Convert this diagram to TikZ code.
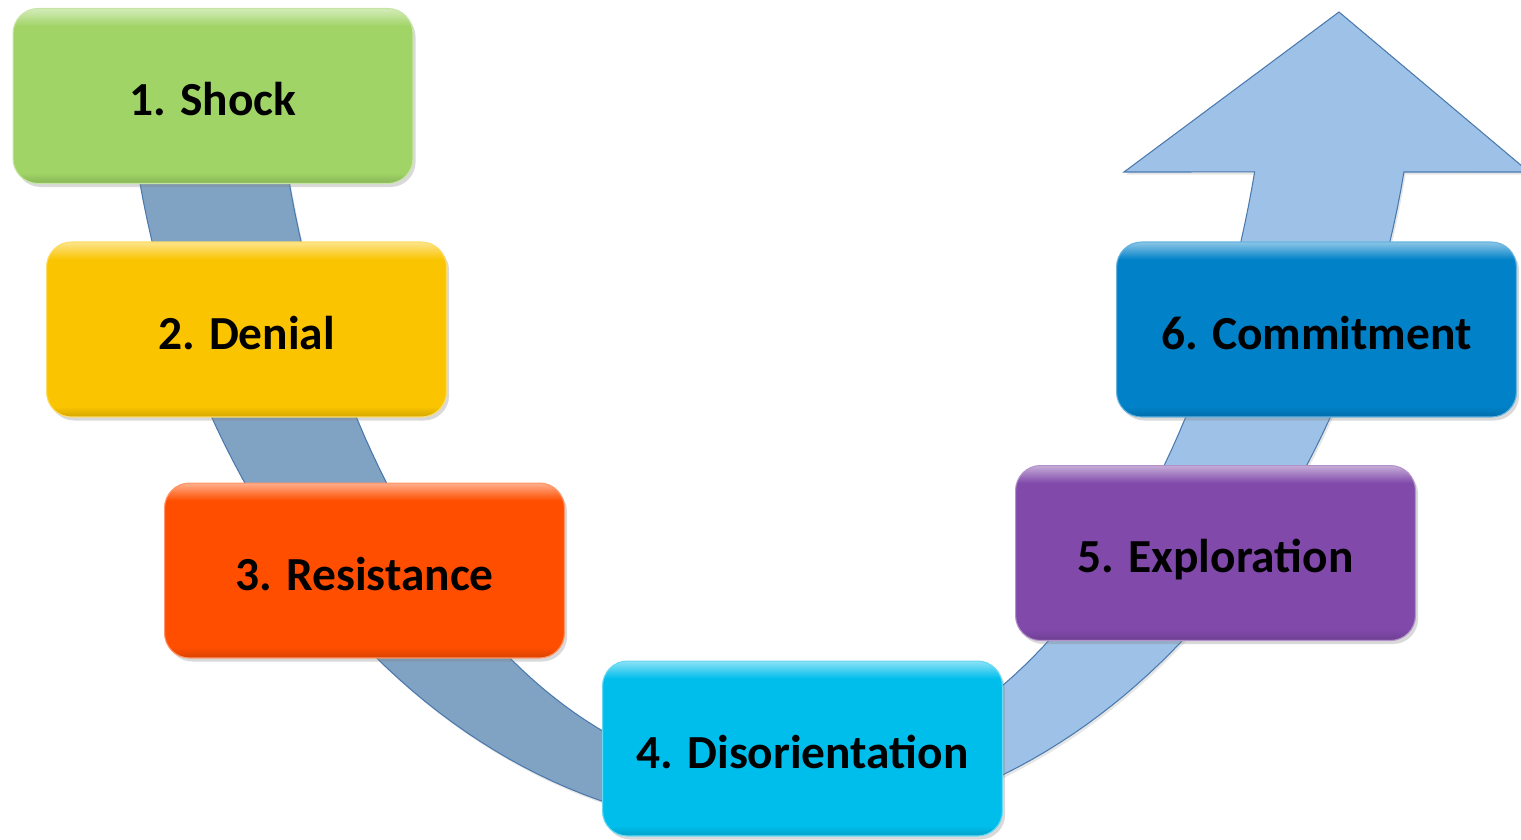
\documentclass[tikz,border=0pt]{standalone}
\usepackage{fontspec}
\setmainfont{Carlito}
\usetikzlibrary{shadows}
\definecolor{bandL}{HTML}{80A3C4}
\definecolor{bandR}{HTML}{9EC2E7}
\definecolor{bandEdge}{HTML}{4A79AE}
\definecolor{cShock}{HTML}{A0D466}
\definecolor{cDenial}{HTML}{FAC400}
\definecolor{cResist}{HTML}{FF4E00}
\definecolor{cDisor}{HTML}{00BEEC}
\definecolor{cExplor}{HTML}{8049AA}
\definecolor{cCommit}{HTML}{0081C8}
\pgfdeclareverticalshading[boxtop,boxmid,boxbot]{gloss}{100bp}{color(0bp)=(boxbot); color(25bp)=(boxbot); color(28bp)=(boxmid); color(70bp)=(boxmid); color(75bp)=(boxtop); color(100bp)=(boxtop)}
\tikzset{
  stage/.style={rounded corners=0.5cm, minimum width=8cm, minimum height=3.5cm, inner sep=0pt,
    draw=#1!60!white, line width=0.6pt,
    /utils/exec={\colorlet{boxmid}{#1}\colorlet{boxtop}{#1!45!white}\colorlet{boxbot}{#1!85!black}},
    shading=gloss,
    drop shadow={opacity=0.3, shadow xshift=1.5pt, shadow yshift=-2pt},
    text height=22.6pt, text depth=0pt,
    font=\fontsize{27}{32}\selectfont\bfseries},
  band/.style={fill=#1, draw=bandEdge, line width=0.6pt, line join=miter,
    drop shadow={opacity=0.2, shadow xshift=1pt, shadow yshift=-1.5pt}},
}

\begin{document}
\begin{tikzpicture}[x=0.02cm, y=-0.02cm]
			%%%%% START %%%%%
			\useasboundingbox (0,0) rectangle (1521,839);
			
			% left half of the U band
			\draw[band=bandL] plot[domain=173.08:90, samples=60, variable=\t] ({771+647*cos(\t)},{830*sin(\t)})
			  -- plot[domain=90:169.58, samples=60, variable=\t] ({771+502*cos(\t)},{-50+829*sin(\t)}) -- cycle;
			
			% right half with the head
			\draw[band=bandR] plot[domain=90:11.96, samples=60, variable=\t] ({771+647*cos(\t)},{830*sin(\t)})
			  -- (1529,172) -- (1339,12) -- (1124,172)
			  -- plot[domain=15.53:90, samples=60, variable=\t] ({771+502*cos(\t)},{-50+829*sin(\t)}) -- cycle;
			
			\node[stage=cShock] (shock) at (213,96) {1. Shock};
			\node[stage=cDenial] (denial) at (246.5,329.5) {2. Denial};
			\node[stage=cResist] (resist) at (364.5,570.5) {3. Resistance};
			\node[stage=cDisor] (disor) at (802.5,748.5) {4. Disorientation};
			\node[stage=cExplor] (explor) at (1215.5,553) {5. Exploration};
			\node[stage=cCommit] (commit) at (1316.5,329.5) {6. Commitment};
			%%%%% END %%%%%
\end{tikzpicture}
\end{document}
